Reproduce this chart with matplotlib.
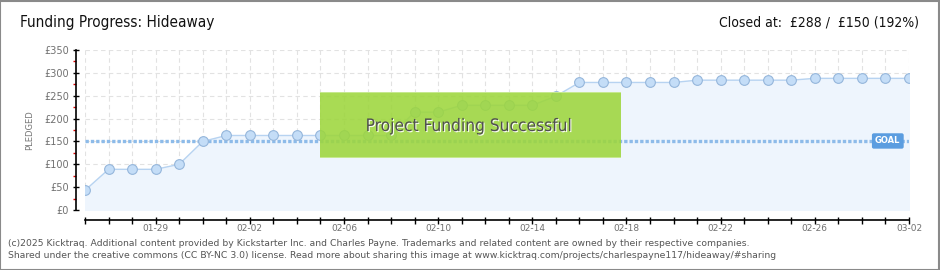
import matplotlib
matplotlib.use("Agg")
import matplotlib.pyplot as plt
import matplotlib.patheffects as pe
import pandas as pd
from matplotlib.patches import Rectangle

# data
days = pd.date_range("2025-01-26", "2025-03-02", freq="D")
pledged = [43, 89, 89, 89, 100, 150, 163, 163, 163, 163, 163, 163, 163, 163,
           214, 214, 229, 229, 229, 229, 249, 279, 279, 279, 279, 279,
           284, 284, 284, 284, 284, 288, 288, 288, 288, 288]
goal = 150
y_ticks = [0, 50, 100, 150, 200, 250, 300, 350]
tick_labels = ["01-29", "02-02", "02-06", "02-10", "02-14",
               "02-18", "02-22", "02-26", "03-02"]

PT = 72 / 100  # points per pixel at dpi 100

plt.rcParams['font.family'] = ['DejaVu Sans']

fig = plt.figure(figsize=(9.4, 2.7), dpi=100)
fig.patch.set_facecolor('white')
fig.patches.append(Rectangle((0.0005, 0.001), 0.998, 0.997, transform=fig.transFigure,
                             fill=False, edgecolor='#8a8a8a', linewidth=1.5))

ax = fig.add_axes([85 / 940, 60 / 270, 824 / 940, 160 / 270])
x = list(range(len(days)))

# grid
ax.grid(which='major', color='#e2e2e2', linestyle=(0, (4, 3)), linewidth=0.8)
ax.set_axisbelow(True)

# area + line + markers
ax.fill_between(x, pledged, 0, color='#eef5fd', zorder=1)
ax.plot(x, pledged, color='#b7d3f1', linewidth=1.0, zorder=3)
ax.plot(x, pledged, linestyle='none', marker='o', markersize=7,
        markerfacecolor='#c4ddf7', markeredgecolor='#95b6db',
        markeredgewidth=0.8, zorder=4)

# goal line
ax.plot([x[0], x[-1]], [goal, goal], color='#8dbbe9', linewidth=2.4,
        linestyle=(0, (1.0, 0.6)), zorder=2)
ax.text(34.1, goal + 1, "GOAL", color='white', fontsize=6, fontweight='bold',
        ha='center', va='center', zorder=6,
        bbox=dict(boxstyle='round,pad=0.3,rounding_size=0.15', fc='#5b9de0',
                  ec='#5b9de0'))

ax.set_xlim(0, 35)
ax.set_ylim(0, 350)

# axes styling
for s in ['top', 'right']:
    ax.spines[s].set_visible(False)
ax.spines['left'].set_position(('outward', 9 * PT))
ax.spines['bottom'].set_position(('outward', 10 * PT))
ax.spines['left'].set_bounds(0, 350)
ax.spines['bottom'].set_bounds(0, 35)
ax.spines['left'].set_linewidth(1.2)
ax.spines['bottom'].set_linewidth(1.2)

ax.set_yticks(y_ticks)
ax.set_yticklabels([f"£{v}" for v in y_ticks])
ax.set_yticks([25, 75, 125, 175, 225, 275, 325], minor=True)
ax.tick_params(axis='y', which='major', direction='inout', length=6 * PT, width=1,
               labelsize=7, labelcolor='#707070', pad=3)
ax.tick_params(axis='y', which='minor', direction='out', length=3.5 * PT, width=1,
               color='#e00000')

labels = [''] * len(x)
for i, lab in enumerate(tick_labels):
    labels[3 + 4 * i] = lab
ax.set_xticks(x)
ax.set_xticklabels(labels)
ax.tick_params(axis='x', direction='inout', length=7 * PT, width=1,
               labelsize=6.5, labelcolor='#707070', pad=0.5)

ax.set_ylabel("PLEDGED", fontsize=6, color='#777777', labelpad=7)

# titles
fig.text(20 / 940, 1 - 22 / 270, "Funding Progress: Hideaway", fontsize=11,
         fontstretch='condensed', color='#111111', ha='left', va='center')
fig.text(919 / 940, 1 - 22 / 270, "Closed at:  £288 /  £150 (192%)", fontsize=10,
         fontstretch='condensed', color='#111111', ha='right', va='center')

# success overlay
fig.patches.append(Rectangle((320 / 940, 1 - 158 / 270), 301 / 940, 66 / 270,
                             transform=fig.transFigure, facecolor='#9dd63c',
                             alpha=0.88, edgecolor='none', zorder=10))
for yb in (158, 93):
    fig.patches.append(Rectangle((320 / 940, 1 - yb / 270), 301 / 940, 1.5 / 270,
                                 transform=fig.transFigure, facecolor='#c6e890',
                                 edgecolor='none', zorder=11))
fig.text(469 / 940, 1 - 126 / 270, "Project Funding Successful", fontsize=12.4,
         fontstretch='condensed', color='#505050', ha='center', va='center', zorder=12,
         path_effects=[pe.withSimplePatchShadow(offset=(0.8, -0.8),
                                                shadow_rgbFace='white', alpha=0.9)])

# footer
fig.text(8 / 940, 1 - 244 / 270,
         "(c)2025 Kicktraq. Additional content provided by Kickstarter Inc. and Charles Payne. "
         "Trademarks and related content are owned by their respective companies.",
         fontsize=6.7, color='#555555', ha='left', va='center')
fig.text(8 / 940, 1 - 256 / 270,
         "Shared under the creative commons (CC BY-NC 3.0) license. Read more about sharing "
         "this image at www.kicktraq.com/projects/charlespayne117/hideaway/#sharing",
         fontsize=6.7, color='#555555', ha='left', va='center')

fig.savefig("out.png", dpi=100)
